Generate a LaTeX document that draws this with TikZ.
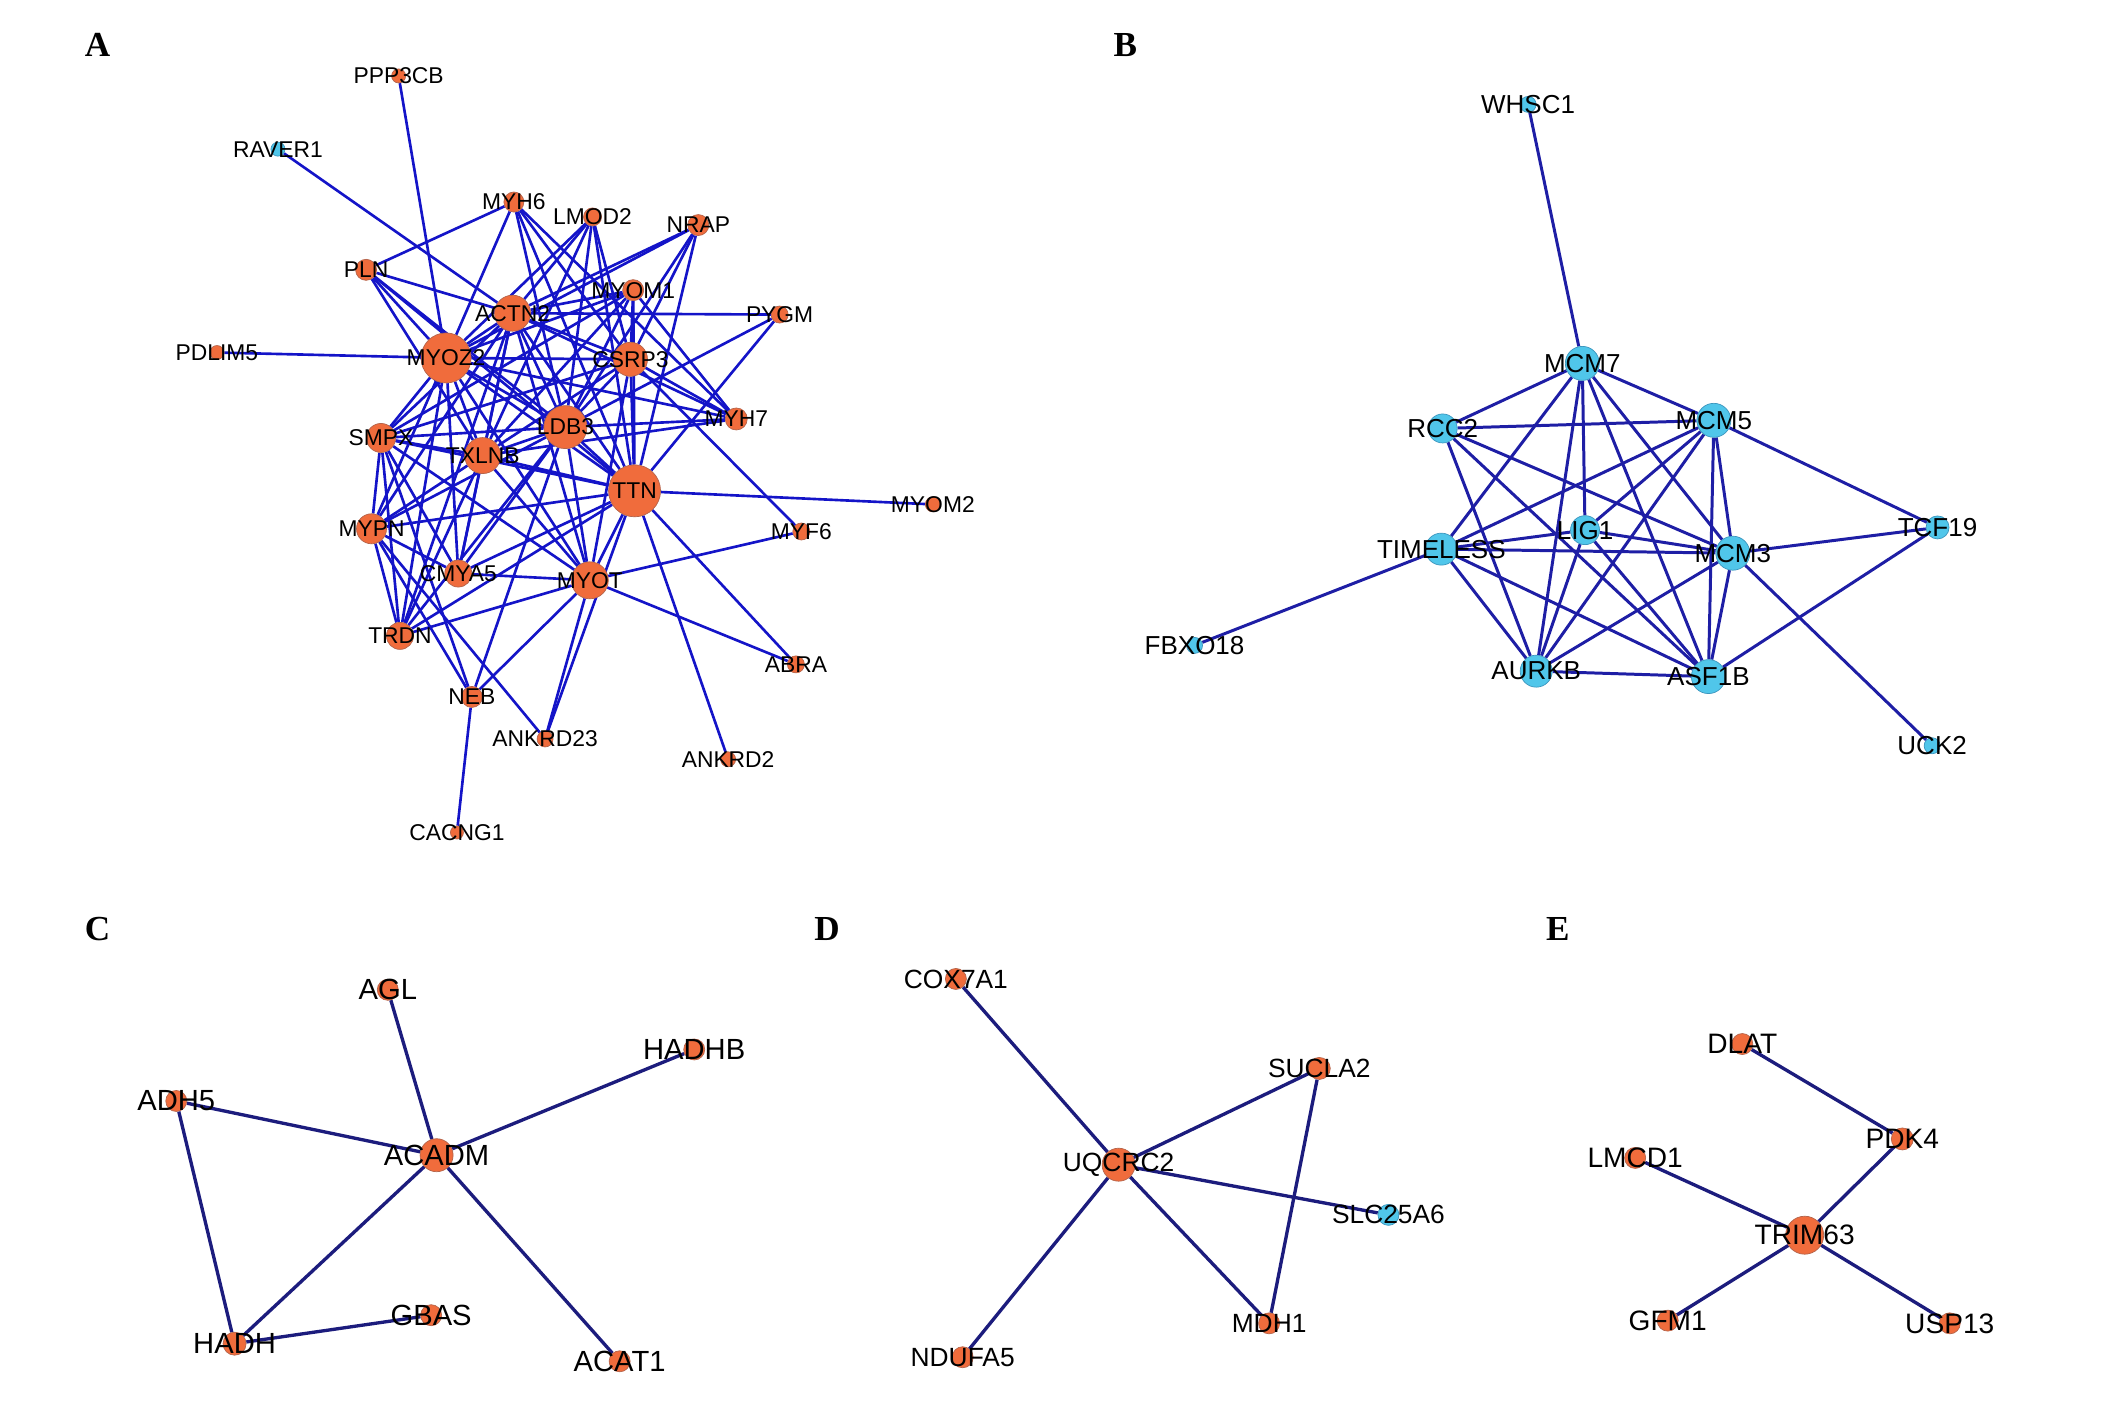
\documentclass[tikz,border=0pt]{standalone}
\usepackage{fontspec}
\setmainfont{Liberation Sans}
\newfontfamily\panelfont{Liberation Serif}
\usetikzlibrary{backgrounds}
\definecolor{geneor}{RGB}{240,108,60}
\definecolor{genebd}{RGB}{180,100,75}
\definecolor{genecy}{RGB}{80,198,234}
\definecolor{genecybd}{RGB}{60,150,190}
\definecolor{linkblue}{RGB}{20,20,200}
\definecolor{linkmid}{RGB}{30,30,165}
\definecolor{linknavy}{RGB}{28,28,125}
\tikzset{
  gene/.style = {circle, draw=genebd, fill=geneor, inner sep=0pt,
    minimum size=#1, line width=0.2pt},
  gene/.default = 1.5mm,
  cgene/.style = {circle, draw=genecybd, fill=genecy, inner sep=0pt,
    minimum size=#1, line width=0.2pt},
  cgene/.default = 1.6mm,
  link/.style = {draw=linkblue, line width=0.75pt},
  linkb/.style = {draw=linkmid, line width=0.85pt},
  linkc/.style = {draw=linknavy, line width=0.95pt},
  panel/.style = {font=\panelfont\bfseries\fontsize{10}{12}\selectfont}
}

\begin{document}
\begin{tikzpicture}[x=0.1356mm, y=-0.1356mm]
\useasboundingbox (0,0) rectangle (1568,1042);

% panel letters
\node[panel] (la) at (72,33) {A};
\node[panel] (lb) at (830,33) {B};
\node[panel] (lc) at (72,685) {C};
\node[panel] (ld) at (610,685) {D};
\node[panel] (le) at (1149,685) {E};

% A: sarcomere genes
\begin{scope}[every label/.style={font=\fontsize{6.5}{7}\selectfont, inner sep=0pt}]
\node[gene=1.4mm, label=center:PPP3CB] (ppp3cb) at (294,56) {};
\node[cgene=1.4mm, label=center:RAVER1] (raver1) at (205,110) {};
\node[gene=2.0mm, label=center:MYH6] (myh6) at (379,149) {};
\node[gene=1.8mm, label=center:LMOD2] (lmod2) at (437,160) {};
\node[gene=2.1mm, label=center:NRAP] (nrap) at (515,166) {};
\node[gene=2.1mm, label=center:PLN] (pln) at (270,199) {};
\node[gene=2.1mm, label=center:MYOM1] (myom1) at (467,214) {};
\node[gene=3.6mm, label=center:ACTN2] (actn2) at (378,231) {};
\node[gene=1.7mm, label=center:PYGM] (pygm) at (575,232) {};
\node[gene=1.4mm, label=center:PDLIM5] (pdlim5) at (160,260) {};
\node[gene=5.0mm, label=center:MYOZ2] (myoz2) at (329,264) {};
\node[gene=3.4mm, label=center:CSRP3] (csrp3) at (465,265) {};
\node[gene=2.2mm, label=center:MYH7] (myh7) at (543,309) {};
\node[gene=4.3mm, label=center:LDB3] (ldb3) at (417,315) {};
\node[gene=2.9mm, label=center:SMPX] (smpx) at (281,323) {};
\node[gene=3.6mm, label=center:TXLNB] (txlnb) at (356,336) {};
\node[gene=5.2mm, label=center:TTN] (ttn) at (468,362) {};
\node[gene=1.5mm, label=center:MYOM2] (myom2) at (688,372) {};
\node[gene=3.0mm, label=center:MYPN] (mypn) at (274,390) {};
\node[gene=1.7mm, label=center:MYF6] (myf6) at (591,392) {};
\node[gene=2.7mm, label=center:CMYA5] (cmya5) at (338,423) {};
\node[gene=3.7mm, label=center:MYOT] (myot) at (435,428) {};
\node[gene=2.7mm, label=center:TRDN] (trdn) at (295,469) {};
\node[gene=1.7mm, label=center:ABRA] (abra) at (587,490) {};
\node[gene=2.1mm, label=center:NEB] (neb) at (348,514) {};
\node[gene=1.6mm, label=center:ANKRD23] (ankrd23) at (402,545) {};
\node[gene=1.5mm, label=center:ANKRD2] (ankrd2) at (537,560) {};
\node[gene=1.3mm, label=center:CACNG1] (cacng1) at (337,614) {};
\end{scope}

% B: cell cycle genes
\begin{scope}[every label/.style={font=\fontsize{7.4}{8}\selectfont, inner sep=0pt}]
\node[cgene=1.6mm, label=center:WHSC1] (whsc1) at (1127,77) {};
\node[cgene=3.4mm, label=center:MCM7] (mcm7) at (1167,268) {};
\node[cgene=2.9mm, label=center:RCC2] (rcc2) at (1064,316) {};
\node[cgene=3.4mm, label=center:MCM5] (mcm5) at (1264,310) {};
\node[cgene=2.3mm, label=center:TCF19] (tcf19) at (1429,389) {};
\node[cgene=2.9mm, label=center:LIG1] (lig1) at (1169,391) {};
\node[cgene=3.2mm, label=center:TIMELESS] (timeless) at (1063,405) {};
\node[cgene=3.4mm, label=center:MCM3] (mcm3) at (1278,408) {};
\node[cgene=1.6mm, label=center:FBXO18] (fbxo18) at (881,476) {};
\node[cgene=3.2mm, label=center:AURKB] (aurkb) at (1133,495) {};
\node[cgene=3.4mm, label=center:ASF1B] (asf1b) at (1260,499) {};
\node[cgene=1.6mm, label=center:UCK2] (uck2) at (1425,550) {};
\end{scope}

% C: fatty acid metabolism
\begin{scope}[every label/.style={font=\fontsize{8.3}{9}\selectfont, inner sep=0pt}]
\node[gene=2.1mm, label=center:AGL] (agl) at (286,730) {};
\node[gene=2.1mm, label=center:HADHB] (hadhb) at (512,774) {};
\node[gene=2.1mm, label=center:ADH5] (adh5) at (130,812) {};
\node[gene=3.3mm, label=center:ACADM] (acadm) at (322,852) {};
\node[gene=2.1mm, label=center:GBAS] (gbas) at (318,970) {};
\node[gene=2.3mm, label=center:HADH] (hadh) at (173,991) {};
\node[gene=2.1mm, label=center:ACAT1] (acat1) at (457,1004) {};
\end{scope}

% D: respiratory chain
\begin{scope}[every label/.style={font=\fontsize{7.5}{8}\selectfont, inner sep=0pt}]
\node[gene=2.1mm, label=center:COX7A1] (cox7a1) at (705,722) {};
\node[gene=2.2mm, label=center:SUCLA2] (sucla2) at (973,788) {};
\node[gene=3.3mm, label=center:UQCRC2] (uqcrc2) at (825,859) {};
\node[cgene=2.1mm, label=center:SLC25A6] (slc25a6) at (1024,896) {};
\node[gene=2.1mm, label=center:MDH1] (mdh1) at (936,976) {};
\node[gene=2.1mm, label=center:NDUFA5] (ndufa5) at (710,1001) {};
\end{scope}

% E: TRIM63 module
\begin{scope}[every label/.style={font=\fontsize{8}{9}\selectfont, inner sep=0pt}]
\node[gene=2.1mm, label=center:DLAT] (dlat) at (1285,770) {};
\node[gene=2.2mm, label=center:PDK4] (pdk4) at (1403,840) {};
\node[gene=2.1mm, label=center:LMCD1] (lmcd1) at (1206,854) {};
\node[gene=3.8mm, label=center:TRIM63] (trim63) at (1331,911) {};
\node[gene=2.1mm, label=center:GFM1] (gfm1) at (1230,974) {};
\node[gene=2.1mm, label=center:USP13] (usp13) at (1438,976) {};
\end{scope}

\begin{pgfonlayer}{background}
% A
\draw[link] (myoz2) edge (actn2) edge (csrp3) edge (ldb3) edge (txlnb) edge (ttn)
  edge (myot) edge (smpx) edge (mypn) edge (cmya5) edge (trdn);
\draw[link] (actn2) edge (csrp3) edge (ldb3) edge (txlnb) edge (ttn) edge (myot)
  edge (smpx) edge (mypn) edge (cmya5) edge (trdn);
\draw[link] (csrp3) edge (ldb3) edge (txlnb) edge (ttn) edge (myot) edge (smpx);
\draw[link] (ldb3) edge (txlnb) edge (ttn) edge (myot) edge (smpx) edge (mypn)
  edge (cmya5) edge (trdn);
\draw[link] (txlnb) edge (ttn) edge (myot) edge (smpx) edge (mypn) edge (cmya5) edge (trdn);
\draw[link] (ttn) edge (myot) edge (smpx) edge (mypn) edge (cmya5) edge (trdn);
\draw[link] (myot) edge (smpx) edge (cmya5) edge (trdn);
\draw[link] (smpx) edge (mypn) edge (trdn) edge (cmya5);
\draw[link] (mypn) edge (trdn) edge (cmya5);
\draw[link] (pln) edge (myh6) edge (actn2) edge (myoz2) edge (ldb3) edge (txlnb) edge (ttn);
\draw[link] (myh6) edge (myoz2) edge (ldb3) edge (ttn) edge (csrp3) edge (myh7);
\draw[link] (lmod2) edge (actn2) edge (myoz2) edge (ldb3) edge (ttn) edge (csrp3) edge (txlnb);
\draw[link] (nrap) edge (actn2) edge (myoz2) edge (csrp3) edge (ldb3) edge (ttn);
\draw[link] (myom1) edge (myoz2) edge (actn2) edge (ldb3) edge (ttn) edge (txlnb)
  edge (csrp3) edge (smpx) edge (myh7);
\draw[link] (pygm) edge (actn2) edge (ldb3) edge (ttn);
\draw[link] (myh7) edge (actn2) edge (myoz2) edge (ldb3) edge (csrp3) edge (txlnb);
\draw[link] (myf6) edge (myot) edge (csrp3);
\draw[link] (abra) edge (ttn) edge (myot);
\draw[link] (ankrd2) -- (ttn);
\draw[link] (ankrd23) edge (myot) edge (ttn) edge (mypn);
\draw[link] (neb) edge (myot) edge (ldb3) edge (mypn) edge (cacng1) edge (smpx);
\draw[link] (myom2) -- (ttn);
\draw[link] (ppp3cb) -- (myoz2);
\draw[link] (raver1) -- (actn2);
\draw[link] (pdlim5) -- (myoz2);
% B
\draw[linkb] (mcm7) edge (whsc1) edge (rcc2) edge (mcm5) edge (timeless) edge (aurkb)
  edge (lig1) edge (mcm3) edge (asf1b);
\draw[linkb] (rcc2) edge (mcm5) edge (aurkb) edge (mcm3) edge (asf1b);
\draw[linkb] (mcm5) edge (timeless) edge (lig1) edge (aurkb) edge (mcm3) edge (asf1b) edge (tcf19);
\draw[linkb] (timeless) edge (lig1) edge (mcm3) edge (aurkb) edge (asf1b) edge (fbxo18);
\draw[linkb] (lig1) edge (mcm3) edge (aurkb) edge (asf1b);
\draw[linkb] (mcm3) edge (tcf19) edge (aurkb) edge (asf1b) edge (uck2);
\draw[linkb] (tcf19) -- (asf1b);
\draw[linkb] (aurkb) -- (asf1b);
% C
\draw[linkc] (acadm) edge (agl) edge (hadhb) edge (adh5) edge (hadh) edge (acat1);
\draw[linkc] (adh5) -- (hadh);
\draw[linkc] (hadh) -- (gbas);
% D
\draw[linkc] (uqcrc2) edge (cox7a1) edge (sucla2) edge (slc25a6) edge (mdh1) edge (ndufa5);
\draw[linkc] (sucla2) -- (mdh1);
% E
\draw[linkc] (dlat) -- (pdk4);
\draw[linkc] (trim63) edge (pdk4) edge (lmcd1) edge (gfm1) edge (usp13);
\end{pgfonlayer}
\end{tikzpicture}
\end{document}
